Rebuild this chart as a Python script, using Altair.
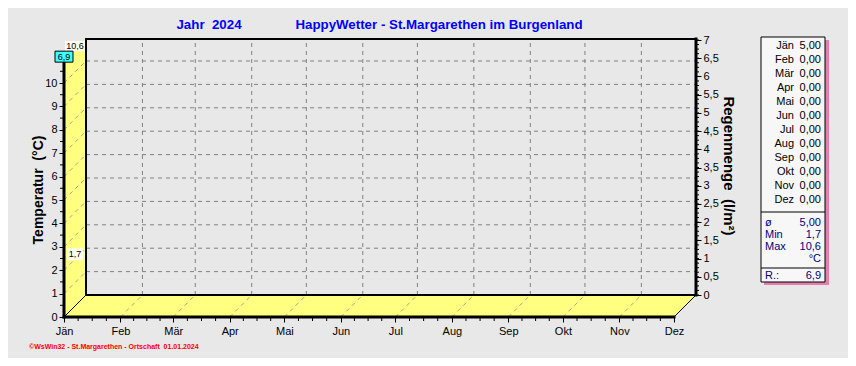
import altair as alt
import pandas as pd

# ---------------- data ----------------
months = ["Jän", "Feb", "Mär", "Apr", "Mai", "Jun", "Jul", "Aug", "Sep", "Okt", "Nov", "Dez"]
month_start_day = [0, 31, 60, 91, 121, 152, 182, 213, 244, 274, 305, 335]
month_days = [31, 29, 31, 30, 31, 30, 31, 31, 30, 31, 30, 31]
month_mean_temp = [5.00, 0.00, 0.00, 0.00, 0.00, 0.00, 0.00, 0.00, 0.00, 0.00, 0.00, 0.00]
temp_ticks = [0, 1, 2, 3, 4, 5, 6, 7, 8, 9, 10]
rain_ticks = [0, 0.5, 1, 1.5, 2, 2.5, 3, 3.5, 4, 4.5, 5, 5.5, 6, 6.5, 7]
temp_mean = 5.00
temp_min = 1.7
temp_max = 10.6
rain_total = 6.9
title_year = "Jahr\u00a0 2024"
title_station = "HappyWetter - St.Margarethen im Burgenland"
y_title = "Temperatur\u00a0 (°C)"
r_title = "Regenmenge\u00a0 (l/m²)"
footer_text = "©WsWin32 - St.Margarethen - Ortschaft\u00a0 01.01.2024"


def de(v, n):
    return f"{v:.{n}f}".replace(".", ",")


# ---------------- geometry ----------------
FONT = "Liberation Sans"
PLOT_W, PLOT_H = 632, 278
PX_PER_DAY = 610 / 335
PX_PER_DEG = 23.4
PX_PER_RAIN = 255 / 7
DEPTH = 22
DX = DEPTH / PX_PER_DAY
DY = DEPTH / PX_PER_DEG
XMAX = PLOT_W / PX_PER_DAY
YMAX = PLOT_H / PX_PER_DEG
R_LO = -DEPTH / PX_PER_RAIN
R_HI = R_LO + PLOT_H / PX_PER_RAIN
END = month_start_day[-1]
YELLOW = "#ffff80"

xs = alt.Scale(domain=[0, XMAX], nice=False, zero=False)
ys = alt.Scale(domain=[0, YMAX], nice=False, zero=False)
rs = alt.Scale(domain=[R_LO, R_HI], nice=False, zero=False)


def X(f="x", axis=None):
    return alt.X(f"{f}:Q", scale=xs, axis=axis)


def Y(f="y", axis=None):
    return alt.Y(f"{f}:Q", scale=ys, axis=axis, stack=False)


def segs(rows, **kw):
    df = pd.DataFrame(rows, columns=["x", "y", "x2", "y2"])
    return alt.Chart(df).mark_rule(**kw).encode(x=X(), y=Y(), x2="x2:Q", y2="y2:Q")


# 3D walls
wall_left = alt.Chart(pd.DataFrame({
    "x": [0, DX], "y": [0, DY], "y2": [YMAX - DY, YMAX]
})).mark_area(color=YELLOW, opacity=1).encode(x=X(), y=Y(), y2="y2:Q")

floor = alt.Chart(pd.DataFrame({
    "x": [0, DX, END, END + DX], "y": [0, 0, 0, DY], "y2": [0, DY, DY, DY]
})).mark_area(color=YELLOW, opacity=1).encode(x=X(), y=Y(), y2="y2:Q")

# dashed depth lines on walls
wall_dash_rows = [(0, t, DX, t + DY) for t in temp_ticks[1:]] + \
                 [(d, 0, d + DX, DY) for d in month_start_day[1:-1]]
wall_dash = segs(wall_dash_rows, color="#a0a0a0", strokeDash=[4, 4], strokeWidth=1)

# back grid
grid_rows = [(d + DX, DY, d + DX, YMAX) for d in month_start_day[1:-1]] + \
            [(DX, t + DY, END + DX, t + DY) for t in temp_ticks[1:]]
grid = segs(grid_rows, color="#808080", strokeDash=[4, 4], strokeWidth=1)

# frame lines
frame_df = pd.DataFrame([
    (DX, DY, DX, YMAX, 2),
    (DX, YMAX, END + DX, YMAX, 2),
    (END + DX, DY, END + DX, YMAX, 3),
    (DX, DY, END + DX, DY, 2),
    (0, 0, 0, YMAX - DY, 3),
    (0, 0, END, 0, 3),
    (0, 0, DX, DY, 1),
    (END, 0, END + DX, DY, 1),
], columns=["x", "y", "x2", "y2", "w"])
frame = alt.Chart(frame_df).mark_rule(color="black", strokeCap="square").encode(
    x=X(), y=Y(), x2="x2:Q", y2="y2:Q",
    strokeWidth=alt.StrokeWidth("w:Q", scale=None))

# x axis with minor quarter-month ticks
label_expr = "[" + ",".join(f"'{m}'" for m in months) + "][indexof([" + \
    ",".join(str(d) for d in month_start_day) + "], datum.value)]"
x_axis = alt.Axis(values=month_start_day, labelExpr=label_expr, tickSize=5, tickColor="black",
                  tickWidth=1, domain=False, grid=False, labelFont=FONT, labelFontSize=11,
                  labelColor="black", labelPadding=3, title=None, labelFlush=False,
                  labelOverlap=False)
quarters = []
for i in range(11):
    for k in (1, 2, 3):
        quarters.append(month_start_day[i] + month_days[i] * k / 4)
minor_x = alt.Chart(pd.DataFrame({"x": quarters})).mark_rule(color="black").encode(
    x=X(axis=x_axis), y=alt.value(PLOT_H + 1), y2=alt.value(PLOT_H + 4))

# left temperature axis
y_axis = alt.Axis(orient="left", values=temp_ticks, tickSize=5, tickColor="black", tickWidth=1,
                  domain=False, grid=False, labelFont=FONT, labelFontSize=11,
                  labelColor="black", labelPadding=2, title=None)
minor_y = alt.Chart(pd.DataFrame({"y": [t + 0.5 for t in temp_ticks]})).mark_rule(
    color="black").encode(y=Y(axis=y_axis), x=alt.value(-4), x2=alt.value(0))

# right rain axis
r_axis = alt.Axis(orient="right", values=rain_ticks,
                  labelExpr="replace(toString(datum.value), '.', ',')",
                  tickSize=5, tickColor="black", tickWidth=1, domain=False, grid=False,
                  labelFont=FONT, labelFontSize=11, labelColor="black", labelPadding=2,
                  title=None)
minor_r = alt.Chart(pd.DataFrame({"r": [k / 8 for k in range(57)]})).mark_rule(
    color="black").encode(y=alt.Y("r:Q", scale=rs, axis=r_axis),
                          x=alt.value(PLOT_W), x2=alt.value(PLOT_W + 3))

# value labels (max / min temperature, rain)
tl_df = pd.DataFrame({
    "x": [DX / 2, DX / 2],
    "y": [temp_max + DY / 2, temp_min + DY / 2],
    "label": [de(temp_max, 1), de(temp_min, 1)],
    "shape": ["M-10,-17H10V-7H-10Z", "M-8,-18H8V-6H-8Z"],
})
tl_box = alt.Chart(tl_df).mark_point(filled=True, fill="#fffff0", size=4, opacity=1,
                                     strokeWidth=0).encode(
    x=X(), y=Y(), shape=alt.Shape("shape:N", scale=None))
tl_text = alt.Chart(tl_df).mark_text(font=FONT, fontSize=9, color="black", dy=-12).encode(
    x=X(), y=Y(), text="label:N")

rl_df = pd.DataFrame({"x": [0], "r": [rain_total], "label": [de(rain_total, 1)]})
rl_box = alt.Chart(rl_df).mark_point(filled=True, fill="#40ffff", stroke="black", strokeWidth=1,
                                     size=4, opacity=1, shape="M-9,7.5H9V18.5H-9Z").encode(
    x=X(), y=alt.Y("r:Q", scale=rs, axis=None))
rl_text = alt.Chart(rl_df).mark_text(font=FONT, fontSize=9, color="black", dy=13).encode(
    x=X(), y=alt.Y("r:Q", scale=rs, axis=None), text="label:N")

# titles
one = lambda s: pd.DataFrame({"t": [s]})
t_year = alt.Chart(one(title_year)).mark_text(
    font=FONT, fontSize=13.3, fontWeight="bold", color="#0000ff", baseline="alphabetic"
).encode(x=alt.value(145), y=alt.value(-10), text="t:N")
t_station = alt.Chart(one(title_station)).mark_text(
    font=FONT, fontSize=13.3, fontWeight="bold", color="#0000ff", baseline="alphabetic"
).encode(x=alt.value(375), y=alt.value(-10), text="t:N")
t_y = alt.Chart(one(y_title)).mark_text(
    font=FONT, fontSize=14, fontWeight="bold", color="black", angle=270
).encode(x=alt.value(-25), y=alt.value(151), text="t:N")
t_r = alt.Chart(one(r_title)).mark_text(
    font=FONT, fontSize=15, fontWeight="bold", color="black", angle=90
).encode(x=alt.value(665), y=alt.value(127), text="t:N")
t_foot = alt.Chart(one(footer_text)).mark_text(
    font=FONT, fontSize=7, fontWeight="bold", color="#ff0000", align="left"
).encode(x=alt.value(-35), y=alt.value(308), text="t:N")

# summary table
box_df = pd.DataFrame({"a": [0]})
shadow = alt.Chart(box_df).mark_rect(fill="#e46aa5", opacity=0.85).encode(
    x=alt.value(700), x2=alt.value(765), y=alt.value(1), y2=alt.value(246))
box = alt.Chart(box_df).mark_rect(fill="#f7f7f7", stroke="black", strokeWidth=1).encode(
    x=alt.value(697), x2=alt.value(761), y=alt.value(-2), y2=alt.value(243))
sep = alt.Chart(pd.DataFrame({"y": [173, 229]})).mark_rule(color="black").encode(
    y=alt.Y("y:Q", scale=None, axis=None), x=alt.value(697), x2=alt.value(761))

mt_df = pd.DataFrame({
    "m": months,
    "v": [de(v, 2) for v in month_mean_temp],
    "ypos": [7 + 14 * i for i in range(len(months))],
})
mt_names = alt.Chart(mt_df).mark_text(font=FONT, fontSize=11, color="black", align="right").encode(
    x=alt.value(730), y=alt.Y("ypos:Q", scale=None, axis=None), text="m:N")
mt_vals = alt.Chart(mt_df).mark_text(font=FONT, fontSize=11, color="black", align="right").encode(
    x=alt.value(757), y=alt.Y("ypos:Q", scale=None, axis=None), text="v:N")

st_df = pd.DataFrame({
    "l": ["ø", "Min", "Max", "", "R.:"],
    "v": [de(temp_mean, 2), de(temp_min, 1), de(temp_max, 1), "°C", de(rain_total, 1)],
    "ypos": [184, 196, 208, 220, 237],
})
st_names = alt.Chart(st_df).mark_text(font=FONT, fontSize=11, color="#000080", align="left").encode(
    x=alt.value(701), y=alt.Y("ypos:Q", scale=None, axis=None), text="l:N")
st_vals = alt.Chart(st_df).mark_text(font=FONT, fontSize=11, color="#000080", align="right").encode(
    x=alt.value(757), y=alt.Y("ypos:Q", scale=None, axis=None), text="v:N")

chart = alt.layer(
    wall_left, floor, wall_dash, grid, frame, minor_x, minor_y, minor_r,
    tl_box, tl_text, rl_box, rl_text,
    t_year, t_station, t_y, t_r, t_foot,
    shadow, box, sep, mt_names, mt_vals, st_names, st_vals,
).resolve_scale(x="independent", y="independent").properties(
    width=PLOT_W, height=PLOT_H,
    padding={"left": 56, "top": 31, "right": 152, "bottom": 41},
    autosize=alt.AutoSizeParams(type="none"),
    background="#e8e8e8",
).configure_view(strokeWidth=0)

chart.save("out.html", embed_options={"renderer": "svg", "actions": False})
